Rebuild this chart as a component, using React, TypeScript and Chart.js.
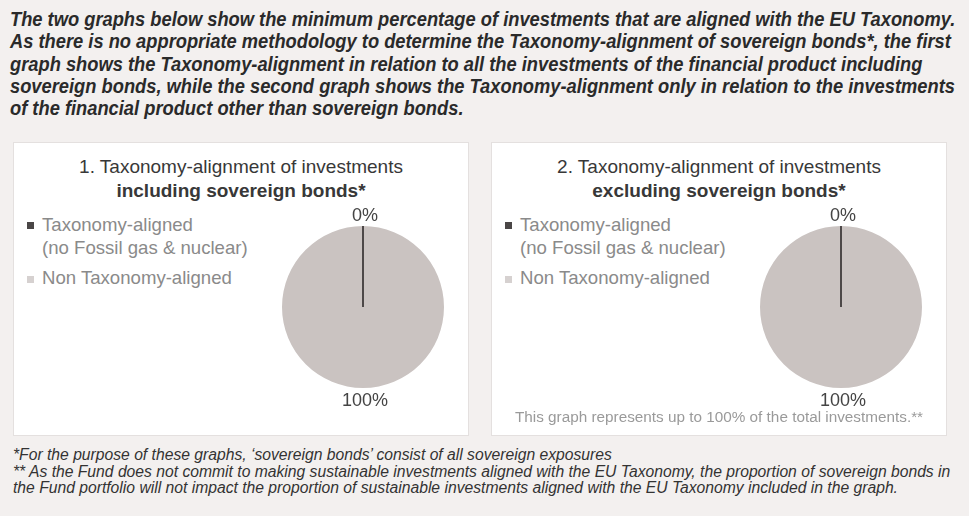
import React, { useEffect, useRef } from "react";
import { Chart, registerables } from "chart.js";

Chart.register(...registerables);

// ---- data ----
const categories = ["Taxonomy-aligned (no Fossil gas & nuclear)", "Non Taxonomy-aligned"];
const legendLines = [["Taxonomy-aligned", "(no Fossil gas & nuclear)"], ["Non Taxonomy-aligned"]];
const includingValues = [0, 100];
const excludingValues = [0, 100];
const sliceColors = ["#4d4848", "#cac3c1"];
const markerColors = ["#4a4646", "#d6d1d0"];

const headerLines = [
  "The two graphs below show the minimum percentage of investments that are aligned with the EU Taxonomy.",
  "As there is no appropriate methodology to determine the Taxonomy-alignment of sovereign bonds*, the first",
  "graph shows the Taxonomy-alignment in relation to all the investments of the financial product including",
  "sovereign bonds, while the second graph shows the Taxonomy-alignment only in relation to the investments",
  "of the financial product other than sovereign bonds.",
];
const footnoteLines = [
  "*For the purpose of these graphs, \u2018sovereign bonds\u2019 consist of all sovereign exposures",
  "** As the Fund does not commit to making sustainable investments aligned with the EU Taxonomy, the proportion of sovereign bonds in",
  "the Fund portfolio will not impact the proportion of sustainable investments aligned with the EU Taxonomy included in the graph.",
];
const noteText = "This graph represents up to 100% of the total investments.**";

const pieLabelsPlugin = {
  id: "pieLabels",
  afterDatasetsDraw(chart: any) {
    const meta = chart.getDatasetMeta(0);
    const data = chart.data.datasets[0].data as number[];
    const ctx = chart.ctx as CanvasRenderingContext2D;
    ctx.save();
    meta.data.forEach((arc: any, i: number) => {
      const p = arc.getProps(["x", "y", "startAngle", "endAngle", "outerRadius"], true);
      if (data[i] === 0) {
        ctx.beginPath();
        ctx.strokeStyle = sliceColors[0];
        ctx.lineWidth = 2;
        ctx.moveTo(p.x, p.y);
        ctx.lineTo(p.x + Math.cos(p.startAngle) * p.outerRadius, p.y + Math.sin(p.startAngle) * p.outerRadius);
        ctx.stroke();
      }
      const mid = (p.startAngle + p.endAngle) / 2;
      const r = p.outerRadius + (data[i] === 0 ? 10 : 13);
      ctx.fillStyle = "#444";
      ctx.font = '18px "Liberation Sans", Arial, sans-serif';
      ctx.textAlign = "center";
      ctx.textBaseline = "middle";
      ctx.fillText(`${data[i]}%`, p.x + Math.cos(mid) * r + 2, p.y + Math.sin(mid) * r);
    });
    ctx.restore();
  },
};

function PieChart({ values }: { values: number[] }) {
  const ref = useRef<HTMLCanvasElement>(null);
  useEffect(() => {
    if (!ref.current) return;
    const chart = new Chart(ref.current, {
      type: "pie",
      data: {
        labels: categories,
        datasets: [
          {
            data: values,
            backgroundColor: sliceColors,
            borderWidth: 0,
            hoverOffset: 0,
            offset: 0,
          },
        ],
      },
      options: {
        responsive: false,
        maintainAspectRatio: false,
        animation: false,
        devicePixelRatio: 1,
        layout: { padding: { top: 29, bottom: 29, left: 19, right: 19 } },
        plugins: { legend: { display: false }, tooltip: { enabled: false }, title: { display: false } },
        events: [],
      },
      plugins: [pieLabelsPlugin],
    });
    return () => chart.destroy();
  }, [values]);
  return (
    <canvas
      ref={ref}
      width={200}
      height={220}
      style={{ position: "absolute", left: 249, top: 54, width: 200, height: 220 }}
    />
  );
}

const sans = '"Liberation Sans", Arial, sans-serif';

function Panel({ left, width, num, qualifier, values, note }: any) {
  return (
    <div
      style={{
        position: "absolute",
        left,
        top: 142,
        width,
        height: 292,
        background: "#fff",
        border: "1px solid #e4e0df",
        fontFamily: sans,
      }}
    >
      <div
        style={{
          position: "absolute",
          left: 0,
          right: 0,
          top: 12,
          textAlign: "center",
          fontSize: 19,
          lineHeight: "24px",
          color: "#383838",
        }}
      >
        <div>{num}. Taxonomy-alignment of investments</div>
        <div style={{ fontWeight: "bold" }}>{qualifier} sovereign bonds*</div>
      </div>
      <div style={{ position: "absolute", left: 13, top: 79, width: 7, height: 7, background: markerColors[0] }} />
      <div style={{ position: "absolute", left: 28, top: 70, fontSize: 18.6, lineHeight: "23px", color: "#8a8a8a" }}>
        <div>{legendLines[0][0]}</div>
        <div>{legendLines[0][1]}</div>
      </div>
      <div style={{ position: "absolute", left: 13, top: 133, width: 7, height: 7, background: markerColors[1] }} />
      <div style={{ position: "absolute", left: 28, top: 123, fontSize: 18.6, lineHeight: "23px", color: "#8a8a8a" }}>
        {legendLines[1][0]}
      </div>
      <PieChart values={values} />
      {note ? (
        <div
          style={{
            position: "absolute",
            left: 0,
            right: 0,
            top: 265,
            textAlign: "center",
            fontSize: 15.3,
            lineHeight: "18px",
            color: "#9a9a9a",
            whiteSpace: "nowrap",
          }}
        >
          {note}
        </div>
      ) : null}
    </div>
  );
}

export default function App() {
  return (
    <div
      style={{
        position: "absolute",
        left: 0,
        top: 0,
        width: 969,
        height: 516,
        background: "#f3f0ef",
        overflow: "hidden",
      }}
    >
      <div
        style={{
          position: "absolute",
          left: 10,
          top: 8,
          width: 1100,
          fontFamily: sans,
          fontWeight: "bold",
          fontStyle: "italic",
          fontSize: 20,
          lineHeight: "22.3px",
          color: "#2a2a2a",
          whiteSpace: "nowrap",
          transform: "scaleX(0.915)",
          transformOrigin: "0 0",
        }}
      >
        {headerLines.map((l, i) => (
          <div key={i}>{l}</div>
        ))}
      </div>
      <Panel left={13} width={454} num={1} qualifier="including" values={includingValues} />
      <Panel left={491} width={454} num={2} qualifier="excluding" values={excludingValues} note={noteText} />
      <div
        style={{
          position: "absolute",
          left: 13,
          top: 447,
          width: 1100,
          fontFamily: sans,
          fontStyle: "italic",
          fontSize: 16,
          lineHeight: "16.5px",
          color: "#333",
          whiteSpace: "nowrap",
          transform: "scaleX(0.98)",
          transformOrigin: "0 0",
        }}
      >
        {footnoteLines.map((l, i) => (
          <div key={i}>{l}</div>
        ))}
      </div>
    </div>
  );
}
